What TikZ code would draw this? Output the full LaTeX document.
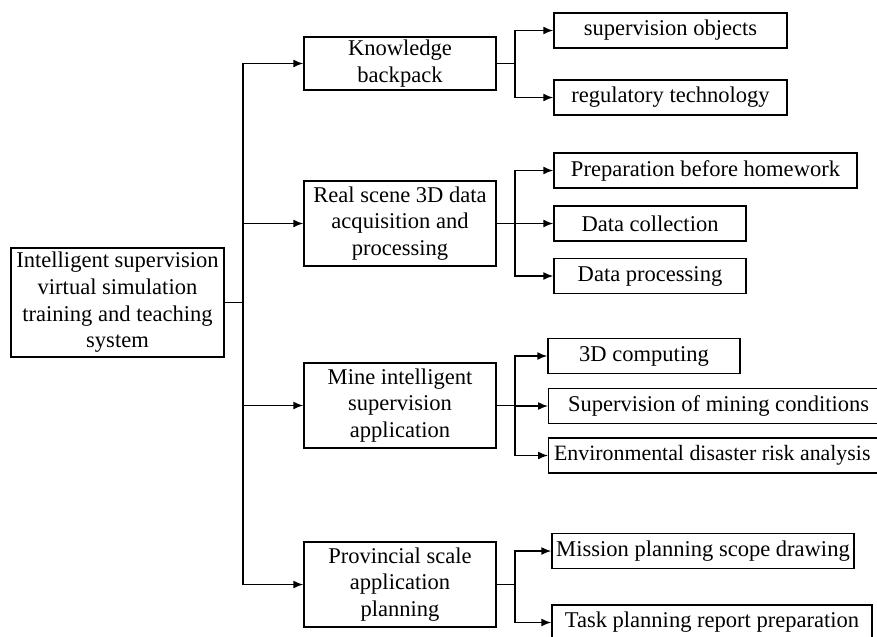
\documentclass[tikz,border=0pt]{standalone}
\usepackage{fontspec}
\setmainfont{Liberation Serif}
\usetikzlibrary{arrows.meta}
\begin{document}
\begin{tikzpicture}[x=0.75pt,y=-0.75pt,
  box/.style={draw, line width=1.1pt, inner sep=0pt, align=center, font=\fontsize{16.9}{20}\selectfont},
  lone/.style={box, minimum width=144pt, minimum height=63.75pt},
  leaf/.style={box, minimum height=26.5pt},
  conn/.style={line width=1.1pt},
  arr/.style={conn, -{Latex[length=7.5pt,width=6pt]}}]
\useasboundingbox (0,0) rectangle (877,636);
\clip (0,0) rectangle (877,636);
\fill[white] (0,0) rectangle (877,636);
% root
\node[box, minimum width=159.75pt, minimum height=81.75pt] (root) at (117.5,302.5)
  {Intelligent supervision\\virtual simulation\\training and teaching\\system};
% level 1
\node[lone, minimum height=39.75pt] (K) at (400,63.5) {Knowledge\\backpack};
\node[lone] (R) at (400,223.5) {Real scene 3D data\\acquisition and\\processing};
\node[lone] (M) at (400,405.5) {Mine intelligent\\supervision\\application};
\node[lone] (P) at (400,584.5) {Provincial scale\\application\\planning};
% leaves
\node[leaf, minimum width=174.75pt] (k1) at (670.5,30.5) {supervision objects};
\node[leaf, minimum width=174.75pt] (k2) at (670.5,97.5) {regulatory technology};
\node[leaf, minimum width=227.25pt] (r1) at (705.5,170.5) {Preparation before homework};
\node[leaf, minimum width=144pt] (r2) at (650,223.5) {Data collection};
\node[leaf, minimum width=144pt] (r3) at (650,276) {Data processing};
\node[leaf, minimum width=144pt] (m1) at (644,356) {3D computing};
\node[leaf, anchor=west] (m2) at (548,406) {\makebox[255pt][l]{\hspace*{14.5pt}Supervision of mining conditions}};
\node[leaf, anchor=west, font=\fontsize{16.4}{20}\selectfont] (m3) at (548,455.5) {\makebox[264pt][l]{\hspace*{4pt}Environmental disaster risk analysis}};
\node[leaf, minimum width=226.5pt] (p1) at (703,551) {Mission planning scope drawing};
\node[leaf, minimum width=240pt] (p2) at (712,622.5) {Task planning report preparation};
% trunk
\coordinate (t) at (243,302.5);
\draw[conn] (root.east) -- (t);
\draw[arr] (t) |- (K.west);
\draw[arr] (t) |- (P.west);
\draw[arr] (t |- R.west) -- (R.west);
\draw[arr] (t |- M.west) -- (M.west);
% knowledge
\coordinate (bk) at (515,63.5);
\draw[conn] (K.east) -- (bk);
\draw[arr] (bk) |- (k1.west);
\draw[arr] (bk) |- (k2.west);
% real scene
\coordinate (br) at (515,223.5);
\draw[arr] (R.east) -- (r2.west);
\draw[arr] (br) |- (r1.west);
\draw[arr] (br) |- (r3.west);
% mine
\coordinate (bm) at (515,405.5);
\draw[conn] (M.east) -- (bm);
\draw[arr] (bm) |- (m1.west);
\draw[arr] (bm) |- (m2.west);
\draw[arr] (bm) |- (m3.west);
% provincial
\coordinate (bp) at (515,584.5);
\draw[conn] (P.east) -- (bp);
\draw[arr] (bp) |- (p1.west);
\draw[arr] (bp) |- (p2.west);
\end{tikzpicture}
\end{document}
